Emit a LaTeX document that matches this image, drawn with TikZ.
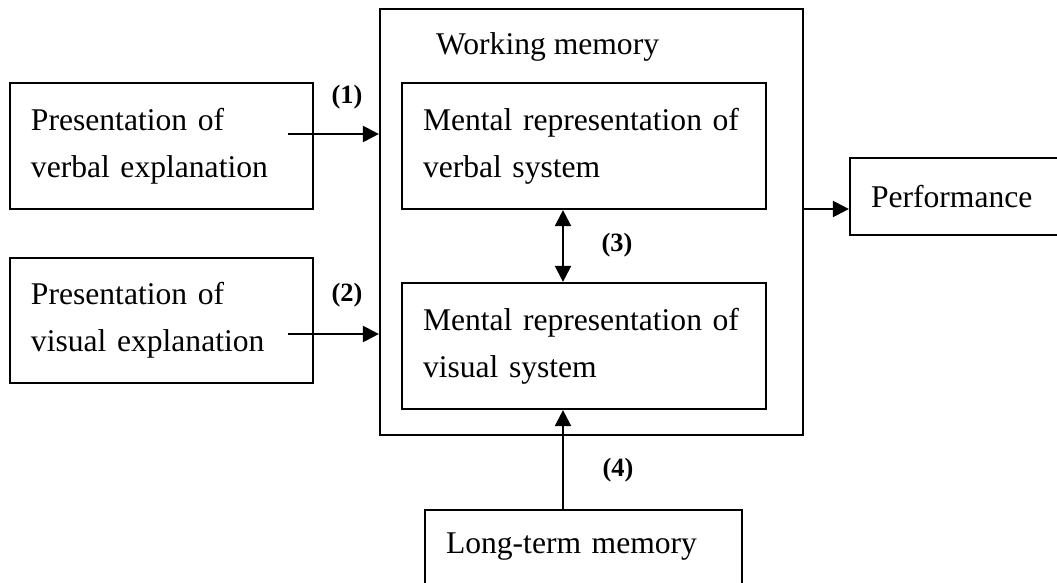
\documentclass[tikz,border=0pt]{standalone}
\usepackage{fontspec}
\setmainfont{Liberation Serif}
\usetikzlibrary{arrows.meta}

\tikzset{
	txt/.style={font=\fontsize{15.8}{23.5}\selectfont},
	box/.style={draw, rectangle, txt, align=left, inner xsep=10.5pt},
	num/.style={font=\fontsize{13.2}{15}\selectfont\bfseries},
	>={Triangle[length=8pt,width=8pt]}
}

\begin{document}
\begin{tikzpicture}[x=0.5pt,y=-0.5pt,line width=1.1pt]
		\useasboundingbox (0,0) rectangle (1057,583);
		% input boxes
		\node[box, text width=130.5pt, minimum height=63pt] (verbal) at (161.5,146) {Presentation of\\verbal explanation};
		\node[box, text width=130.5pt, minimum height=62.5pt] (visual) at (161.5,320.5) {Presentation of\\visual explanation};
		% working memory
		\node[draw, minimum width=211.5pt, minimum height=213pt] (wm) at (591.5,222) {};
		\node[txt, anchor=base west, inner xsep=0pt] (wmlabel) at (435,55) {Working memory};
		\node[box, text width=161pt, minimum height=63pt] (mverbal) at (584,146) {Mental representation of\\verbal system};
		\node[box, text width=161pt, minimum height=63pt] (mvisual) at (584,346) {Mental representation of\\visual system};
		% output and long-term memory
		\node[box, text width=84pt, minimum height=38.5pt] (perf) at (955,196.5) {Performance};
		\node[box, text width=137.5pt, text height=10.8pt, text depth=40pt, inner ysep=10.7pt, anchor=north] (ltm) at (583.5,509) {Long-term memory};
		% connectors
		\coordinate (a1) at (288,134);
		\coordinate (a2) at (288,334);
		\coordinate (a3) at (563,0);
		\coordinate (a5) at (0,209);
		\draw[->] (a1) -- (a1 -| wm.west);
		\draw[->] (a2) -- (a2 -| wm.west);
		\draw[<->] (a3 |- mverbal.south) -- (a3 |- mvisual.north);
		\draw[->] (a3 |- ltm.north) -- (a3 |- mvisual.south);
		\draw[->] (a5 -| wm.east) -- (a5 -| perf.west);
		% numbers
		\node[num] (n1) at (347,97) {(1)};
		\node[num] (n2) at (347,295) {(2)};
		\node[num] (n3) at (617,245) {(3)};
		\node[num] (n4) at (618,470) {(4)};
	\end{tikzpicture}
\end{document}
